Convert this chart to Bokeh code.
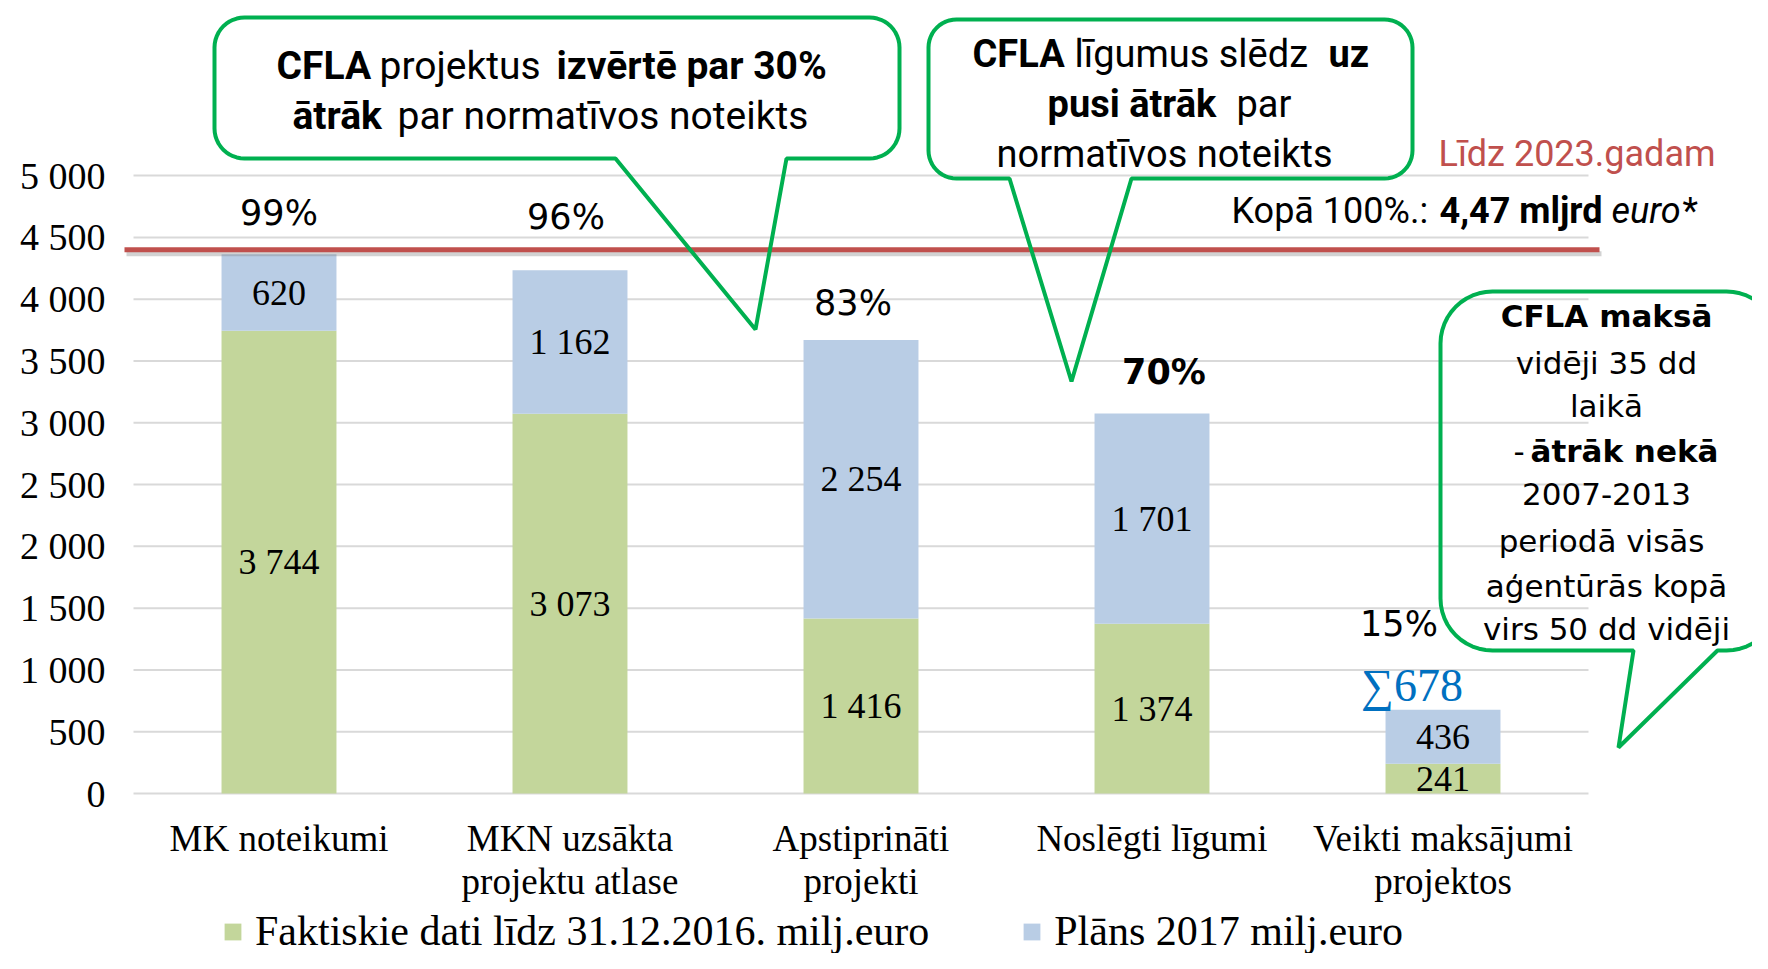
import math
from bokeh.plotting import figure
from bokeh.models import Range1d, FixedTicker, Legend, LegendItem, ColumnDataSource
from bokeh.core.properties import value
from bokeh.embed import file_html
from bokeh.resources import INLINE

# ---------------- data ----------------
categories = ["MK noteikumi", "MKN uzsākta\nprojektu atlase", "Apstiprināti\nprojekti",
              "Noslēgti līgumi", "Veikti maksājumi\nprojektos"]
actual_2016 = [3744, 3073, 1416, 1374, 241]
plan_2017 = [620, 1162, 2254, 1701, 436]
percent_of_total = [99, 96, 83, 70, 15]
payments_sum_label = 678
target_total = 4400
y_ticks = [0, 500, 1000, 1500, 2000, 2500, 3000, 3500, 4000, 4500, 5000]
series_names = ["Faktiskie dati līdz 31.12.2016. milj.euro", "Plāns 2017 milj.euro"]

# ---------------- layout (picture pixels -> data) ----------------
W, H = 1752, 953
X0, CAT_PX = 133.0, 291.0
Y0, UNIT_PX = 793.0, 0.12358
FRAME_LEFT = 118


def dx(px):
    return (px - X0) / CAT_PX


def dy(py):
    return (Y0 - py) / UNIT_PX


GREEN = "#C3D69B"
BLUE = "#B9CDE5"
RED = "#C0504D"
CALLOUT = "#00B050"
GRID = "#D9D9D9"
SERIF = value("Liberation Serif")
SANS = value("DejaVu Sans")
COND = value("Roboto")


def fmt(v):
    return f"{v:,}".replace(",", " ")


p = figure(width=W, height=H,
           x_range=Range1d(dx(FRAME_LEFT), dx(W)),
           y_range=Range1d(dy(H), dy(0)),
           x_axis_type=None, output_backend="svg", toolbar_location=None,
           min_border_left=FRAME_LEFT, min_border_right=0,
           min_border_top=0, min_border_bottom=0)
p.outline_line_color = None
p.grid.visible = False
p.background_fill_color = "white"

# y axis
ax = p.yaxis[0]
ax.ticker = FixedTicker(ticks=y_ticks)
ax.major_label_overrides = {t: fmt(t) for t in y_ticks}
ax.axis_line_color = None
ax.major_tick_line_color = None
ax.minor_tick_line_color = None
ax.major_tick_out = 0
ax.major_tick_in = 0
ax.major_label_standoff = 13
ax.major_label_text_font = "Liberation Serif"
ax.major_label_text_font_size = "38px"
ax.major_label_text_color = "black"

# gridlines (limited to category area)
n = len(categories)
p.segment(x0=[0] * len(y_ticks), x1=[n] * len(y_ticks), y0=y_ticks, y1=y_ticks,
          line_color=GRID, line_width=2)

# bars
xc = [i + 0.5 for i in range(n)]
src = ColumnDataSource(dict(x=xc, actual=actual_2016, plan=plan_2017))
bars = p.vbar_stack(["actual", "plan"], x="x", width=0.395, color=[GREEN, BLUE],
                    line_color=None, source=src)

# target line with shadow
shadow_off = 4 / UNIT_PX
p.segment(x0=[dx(126)], x1=[dx(1601)], y0=[target_total - shadow_off], y1=[target_total - shadow_off],
          line_color="#7F7F7F", line_alpha=0.35, line_width=5)
p.segment(x0=[dx(124)], x1=[dx(1599)], y0=[target_total], y1=[target_total],
          line_color=RED, line_width=5)

# stack value labels
lab_x, lab_y, lab_t = [], [], []
for i in range(n):
    lab_x += [xc[i], xc[i]]
    lab_y += [actual_2016[i] / 2, actual_2016[i] + plan_2017[i] / 2]
    lab_t += [fmt(actual_2016[i]), fmt(plan_2017[i])]
p.text(x=lab_x, y=lab_y, text=lab_t, text_font=SERIF, text_font_size="36px",
       text_align="center", text_baseline="middle", text_color="black")

# percent labels
PCT_DX_PX = [0, -4, -8, 12, -44]
PCT_DY_PX = [-41, -53, -37, -41, -86]
for i in range(n):
    tot = actual_2016[i] + plan_2017[i]
    p.text(x=[xc[i] + PCT_DX_PX[i] / CAT_PX], y=[tot - PCT_DY_PX[i] / UNIT_PX],
           text=[f"{percent_of_total[i]}%"], text_font=SANS, text_font_size="35px",
           text_font_style="bold" if i == 3 else "normal",
           text_align="center", text_baseline="middle", text_color="black")

# sum label over last bar
last = n - 1
p.text(x=[xc[last] - 31 / CAT_PX], y=[actual_2016[last] + plan_2017[last] + 24 / UNIT_PX],
       text=[f"∑{payments_sum_label}"], text_font=SERIF, text_font_size="46px",
       text_align="center", text_baseline="middle", text_color="#0070C0")

# category labels (multi-line)
for i, c in enumerate(categories):
    for j, line in enumerate(c.split("\n")):
        p.text(x=[xc[i]], y=[dy(838 + 43 * j)], text=[line], text_font=SERIF,
               text_font_size="37px", text_align="center", text_baseline="middle",
               text_color="black")


# callouts
def callout(x0, y0, x1, y1, r, ba, bb, tip, k=12):
    pts = []

    def arc(cx, cy, a0, a1):
        for s in range(k + 1):
            a = a0 + (a1 - a0) * s / k
            pts.append((cx + r * math.cos(a), cy + r * math.sin(a)))
    arc(x0 + r, y0 + r, math.pi, 1.5 * math.pi)
    arc(x1 - r, y0 + r, 1.5 * math.pi, 2 * math.pi)
    arc(x1 - r, y1 - r, 0, 0.5 * math.pi)
    pts.append((bb, y1))
    pts.append(tip)
    pts.append((ba, y1))
    arc(x0 + r, y1 - r, 0.5 * math.pi, math.pi)
    return [dx(q[0]) for q in pts], [dy(q[1]) for q in pts]


for args in [(214, 17, 899, 158, 30, 615, 786, (755, 329)),
             (928, 19, 1412, 178, 28, 1009, 1131, (1071, 381)),
             (1440, 291, 1778, 650, 52, 1633, 1717, (1618, 747))]:
    xs, ys = callout(*args)
    p.patch(xs, ys, fill_color=None, line_color=CALLOUT, line_width=4)

# annotation text segments: (text, style, x, y, align, font, size, color)
notes = [
    ("CFLA", "bold", 276, 65, "left", COND, "39px", "black"),
    ("projektus", "normal", 379, 65, "left", COND, "39px", "black"),
    ("izvērtē par 30%", "bold", 556, 65, "left", COND, "39px", "black"),
    ("ātrāk", "bold", 292, 115, "left", COND, "39px", "black"),
    ("par normatīvos noteikts", "normal", 397, 115, "left", COND, "39px", "black"),
    ("CFLA", "bold", 972, 53, "left", COND, "38px", "black"),
    ("līgumus slēdz", "normal", 1074, 53, "left", COND, "38px", "black"),
    ("uz", "bold", 1328, 53, "left", COND, "38px", "black"),
    ("pusi ātrāk", "bold", 1047, 103, "left", COND, "38px", "black"),
    ("par", "normal", 1236, 103, "left", COND, "38px", "black"),
    ("normatīvos noteikts", "normal", 996, 153, "left", COND, "38px", "black"),
    ("Līdz 2023.gadam", "normal", 1438, 153, "left", COND, "36px", RED),
    ("Kopā 100%.:", "normal", 1231, 210, "left", COND, "36px", "black"),
    ("4,47 mljrd", "bold", 1439, 210, "left", COND, "36px", "black"),
    ("euro", "italic", 1611, 210, "left", COND, "36px", "black"),
    ("*", "normal", 1682, 210, "left", COND, "36px", "black"),
    ("CFLA maksā", "bold", 1606, 315, "center", SANS, "31px", "black"),
    ("vidēji 35 dd", "normal", 1606, 362, "center", SANS, "31px", "black"),
    ("laikā", "normal", 1606, 405, "center", SANS, "31px", "black"),
    ("-", "normal", 1513, 450, "left", SANS, "31px", "black"),
    ("ātrāk nekā", "bold", 1530, 450, "left", SANS, "31px", "black"),
    ("2007-2013", "normal", 1606, 493, "center", SANS, "31px", "black"),
    ("periodā  visās", "normal", 1606, 540, "center", SANS, "31px", "black"),
    ("aģentūrās kopā", "normal", 1606, 585, "center", SANS, "31px", "black"),
    ("virs 50 dd vidēji", "normal", 1606, 628, "center", SANS, "31px", "black"),
]
for t, st, x, y, al, fnt, sz, col in notes:
    p.text(x=[dx(x)], y=[dy(y)], text=[t], text_font=fnt, text_font_size=sz,
           text_font_style=st, text_align=al, text_baseline="middle", text_color=col)

# legend
legend = Legend(items=[LegendItem(label=series_names[0], renderers=[bars[0]]),
                       LegendItem(label=series_names[1], renderers=[bars[1]])],
                orientation="horizontal", location=(222 - FRAME_LEFT, -2),
                label_text_font="Liberation Serif", label_text_font_size="42px",
                label_text_color="black",
                glyph_width=21, glyph_height=21, label_standoff=12, spacing=92,
                padding=0, margin=0, border_line_color=None, background_fill_alpha=0)
p.add_layout(legend, "center")

open("out.html", "w").write(file_html(p, INLINE))
